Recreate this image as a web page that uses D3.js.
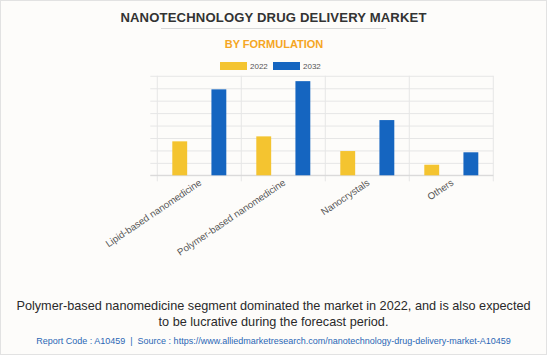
<!DOCTYPE html>
<html><head><meta charset="utf-8">
<script src="https://cdn.jsdelivr.net/npm/d3@7"></script>
<style>
html,body{margin:0;padding:0;background:#fff;}
svg{display:block;font-family:Arial,"Liberation Sans",sans-serif;}
</style></head><body>
<svg id="c" width="547" height="355"></svg>
<script>
const categories = ["Lipid-based nanomedicine","Polymer-based nanomedicine","Nanocrystals","Others"];
const seriesNames = ["2022","2032"];
const values2022 = [2.73, 3.13, 1.95, 0.85];
const values2032 = [6.91, 7.57, 4.44, 1.85];
const yTicks = [0,1,2,3,4,5,6,7,8];
const colors = ["#f4c430","#1565c0"];

(function(){
const svg = d3.select("#c");
const W = 547, H = 355;
svg.append("rect").attr("x",0.5).attr("y",0.5).attr("width",W-1).attr("height",H-1)
  .attr("fill","#fdfcfa").attr("stroke","#e2e2e2");

// title
svg.append("text").attr("x",273.5).attr("y",22).attr("text-anchor","middle")
  .attr("font-size",13.1).attr("font-weight","bold").attr("fill","#333")
  .attr("letter-spacing",0.15).text("NANOTECHNOLOGY DRUG DELIVERY MARKET");
svg.append("line").attr("x1",161).attr("x2",386).attr("y1",28.5).attr("y2",28.5)
  .attr("stroke","#d8d8d8").attr("stroke-width",1);
svg.append("text").attr("x",274).attr("y",48).attr("text-anchor","middle")
  .attr("font-size",11).attr("font-weight","bold").attr("fill","#f5a623")
  .text("BY FORMULATION");

// legend
const leg = svg.append("g");
[[220,250],[273,303]].forEach((p,i)=>{
  leg.append("rect").attr("x",p[0]).attr("y",62).attr("width",27).attr("height",8).attr("fill",colors[i]);
  leg.append("text").attr("x",p[1]).attr("y",69).attr("font-size",8).attr("fill","#555").text(seriesNames[i]);
});

const pl = 157.3, pr = 493.3, pt = 75.8, pb = 175.3;
const x0 = d3.scaleBand().domain(categories).range([pl,pr]).paddingInner(0).paddingOuter(0);
const x1 = d3.scaleBand().domain(seriesNames).range([15,69]).paddingInner(0.62).paddingOuter(0);
const y = d3.scaleLinear().domain([0,8]).range([pb,pt]);

// horizontal gridlines
const gy = svg.append("g").attr("transform",`translate(${pl},0)`)
  .call(d3.axisLeft(y).tickValues(yTicks).tickSize(-(pr-pl)).tickSizeOuter(0).tickFormat(""));
gy.select(".domain").remove();
gy.selectAll(".tick line").attr("stroke","#e6e6e6").attr("x1",-7);

// vertical grid lines at category boundaries
const bounds = categories.map(c=>x0(c)).concat([pr]);
svg.append("g").selectAll("line").data(bounds).join("line")
  .attr("x1",d=>d).attr("x2",d=>d).attr("y1",pt).attr("y2",pb+6)
  .attr("stroke","#e6e6e6");

// baseline
svg.append("line").attr("x1",pl-7).attr("x2",pr).attr("y1",pb).attr("y2",pb).attr("stroke","#d6d6d6");

// bars
const data = categories.map((c,i)=>({c, vals:[values2022[i],values2032[i]]}));
const g = svg.append("g");
data.forEach(d=>{
  d.vals.forEach((v,j)=>{
    g.append("rect").attr("x",x0(d.c)+x1(seriesNames[j])).attr("width",x1.bandwidth())
      .attr("y",y(v)).attr("height",y(0)-y(v)).attr("fill",colors[j]);
  });
});

// x axis labels
const gx = svg.append("g").attr("transform",`translate(0,${pb})`)
  .call(d3.axisBottom(x0).tickSize(0).tickPadding(0));
gx.select(".domain").remove();
gx.selectAll(".tick text").attr("font-size",9.7).attr("fill","#555")
  .attr("text-anchor","end").attr("dy",0)
  .attr("transform","translate(3,9) rotate(-34)");

// footer
svg.append("text").attr("x",273.5).attr("y",310).attr("text-anchor","middle")
  .attr("font-size",12.7).attr("fill","#2a2a2a")
  .text("Polymer-based nanomedicine segment dominated the market in 2022, and is also expected");
svg.append("text").attr("x",273.5).attr("y",326).attr("text-anchor","middle")
  .attr("font-size",12.7).attr("fill","#2a2a2a")
  .text("to be lucrative during the forecast period.");
svg.append("text").attr("x",273.5).attr("y",343.5).attr("text-anchor","middle")
  .attr("font-size",9).attr("fill","#2b67b5")
  .text("Report Code : A10459 \u00a0|\u00a0 Source : https://www.alliedmarketresearch.com/nanotechnology-drug-delivery-market-A10459");
})();
</script></body></html>
